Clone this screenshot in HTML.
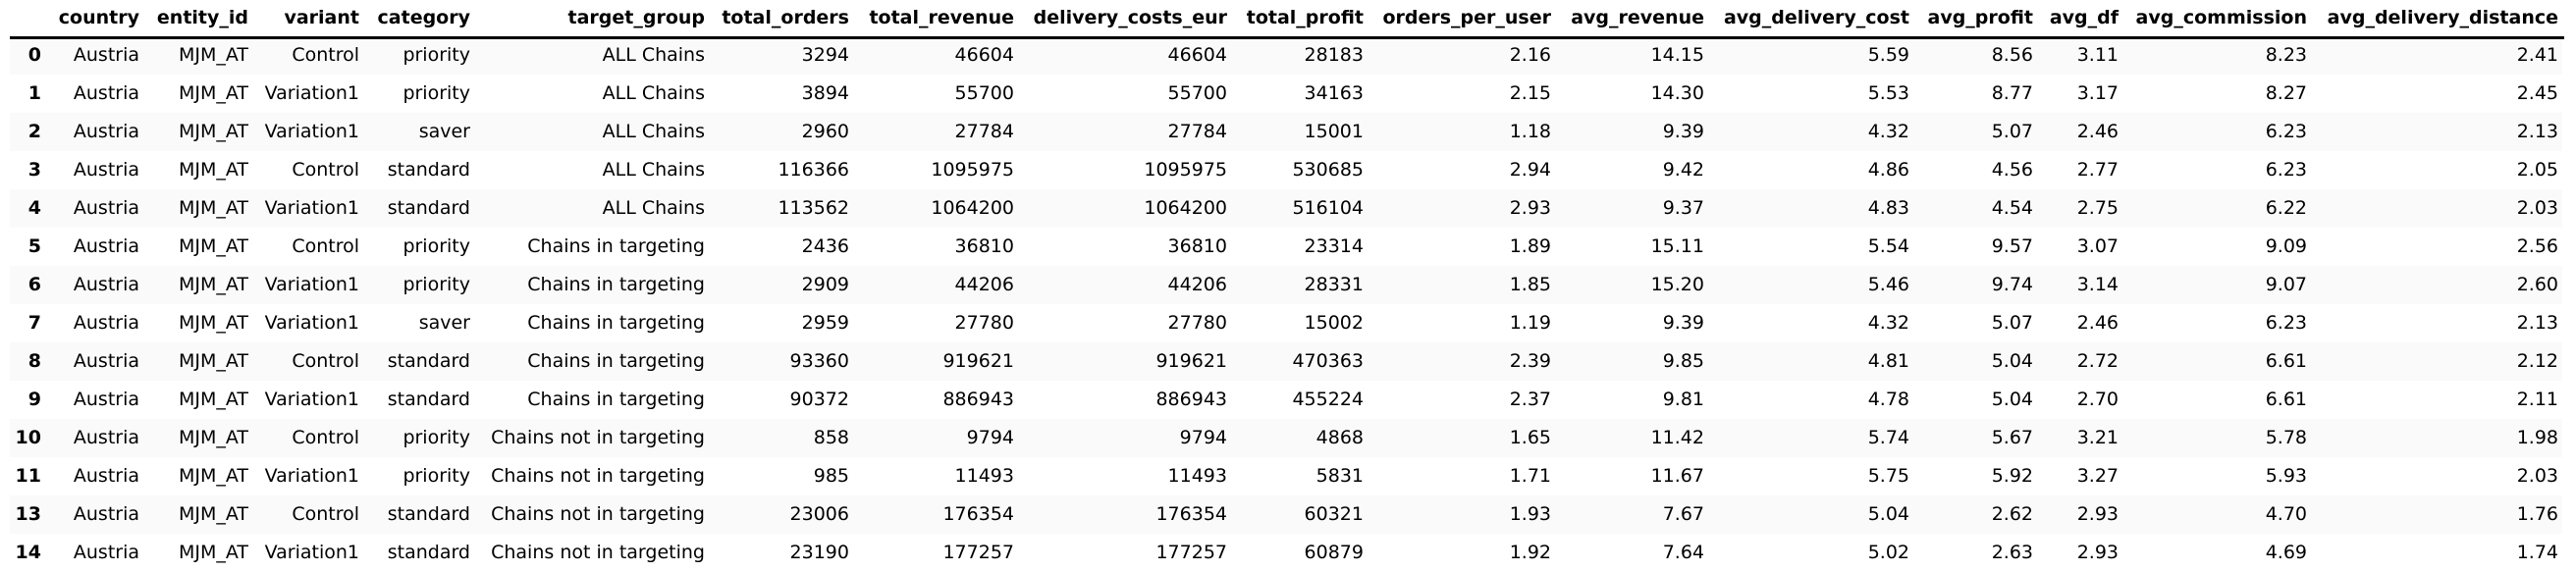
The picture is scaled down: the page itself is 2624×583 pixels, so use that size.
<!DOCTYPE html>
<html><head><meta charset="utf-8">
<style>
html,body{margin:0;padding:0;background:#fff;}
#tbl{position:relative;width:2624px;height:583px;overflow:hidden;font-family:"DejaVu Sans","Liberation Sans",sans-serif;font-size:19px;color:#000;}
.c{position:absolute;white-space:nowrap;line-height:24px;transform:translateX(-100%);}
.h{font-weight:bold;}
.band{position:absolute;left:10px;width:2600px;height:39px;background:#fafafa;}
#rule{position:absolute;left:10px;width:2602px;top:37px;height:3px;background:#000;}
</style></head>
<body>
<div id="tbl">
<div id="rule"></div>
</div>
<script>
const columns=["","country","entity_id","variant","category","target_group","total_orders","total_revenue","delivery_costs_eur","total_profit","orders_per_user","avg_revenue","avg_delivery_cost","avg_profit","avg_df","avg_commission","avg_delivery_distance"];
const rightEdges=[42,142,253,366,479,718,865,1033,1250,1389,1580,1736,1945,2071,2158,2350,2606];
const rowIndex=["0","1","2","3","4","5","6","7","8","9","10","11","13","14"];
const variants=["Control","Variation1","Variation1","Control","Variation1","Control","Variation1","Variation1","Control","Variation1","Control","Variation1","Control","Variation1"];
const categories=["priority","priority","saver","standard","standard","priority","priority","saver","standard","standard","priority","priority","standard","standard"];
const targetGroups=["ALL Chains","ALL Chains","ALL Chains","ALL Chains","ALL Chains","Chains in targeting","Chains in targeting","Chains in targeting","Chains in targeting","Chains in targeting","Chains not in targeting","Chains not in targeting","Chains not in targeting","Chains not in targeting"];
const totalOrders=[3294,3894,2960,116366,113562,2436,2909,2959,93360,90372,858,985,23006,23190];
const totalRevenue=[46604,55700,27784,1095975,1064200,36810,44206,27780,919621,886943,9794,11493,176354,177257];
const deliveryCosts=[46604,55700,27784,1095975,1064200,36810,44206,27780,919621,886943,9794,11493,176354,177257];
const totalProfit=[28183,34163,15001,530685,516104,23314,28331,15002,470363,455224,4868,5831,60321,60879];
const ordersPerUser=[2.16,2.15,1.18,2.94,2.93,1.89,1.85,1.19,2.39,2.37,1.65,1.71,1.93,1.92];
const avgRevenue=[14.15,14.30,9.39,9.42,9.37,15.11,15.20,9.39,9.85,9.81,11.42,11.67,7.67,7.64];
const avgDeliveryCost=[5.59,5.53,4.32,4.86,4.83,5.54,5.46,4.32,4.81,4.78,5.74,5.75,5.04,5.02];
const avgProfit=[8.56,8.77,5.07,4.56,4.54,9.57,9.74,5.07,5.04,5.04,5.67,5.92,2.62,2.63];
const avgDf=[3.11,3.17,2.46,2.77,2.75,3.07,3.14,2.46,2.72,2.70,3.21,3.27,2.93,2.93];
const avgCommission=[8.23,8.27,6.23,6.23,6.22,9.09,9.07,6.23,6.61,6.61,5.78,5.93,4.70,4.69];
const avgDeliveryDistance=[2.41,2.45,2.13,2.05,2.03,2.56,2.60,2.13,2.12,2.11,1.98,2.03,1.76,1.74];

const tbl=document.getElementById('tbl');
const headerY=18, row0Y=56, rowH=39;
function cell(text,x,yc,cls,name){
  const d=document.createElement('div');
  d.className='c '+(cls||'');
  d.textContent=text;
  d.style.left=x+'px';
  d.style.top=(yc-12)+'px';
  
  
  tbl.appendChild(d);
}
for(let i=0;i<rowIndex.length;i++){
  if(i%2===0){
    const b=document.createElement('div');
    b.className='band';
    b.style.top=(row0Y+i*rowH-rowH/2)+'px';
    
    
    tbl.insertBefore(b,tbl.firstChild);
  }
}
columns.forEach((c,j)=>{ if(c) cell(c,rightEdges[j],headerY,'h','column-header'); });
const f2=v=>v.toFixed(2);
for(let i=0;i<rowIndex.length;i++){
  const y=row0Y+i*rowH;
  const vals=[rowIndex[i],"Austria","MJM_AT",variants[i],categories[i],targetGroups[i],
    String(totalOrders[i]),String(totalRevenue[i]),String(deliveryCosts[i]),String(totalProfit[i]),
    f2(ordersPerUser[i]),f2(avgRevenue[i]),f2(avgDeliveryCost[i]),f2(avgProfit[i]),f2(avgDf[i]),f2(avgCommission[i]),f2(avgDeliveryDistance[i])];
  vals.forEach((v,j)=>cell(v,rightEdges[j],y,j===0?'h':'',j===0?'row-index':'table-cell'));
}
</script>
</body></html>
